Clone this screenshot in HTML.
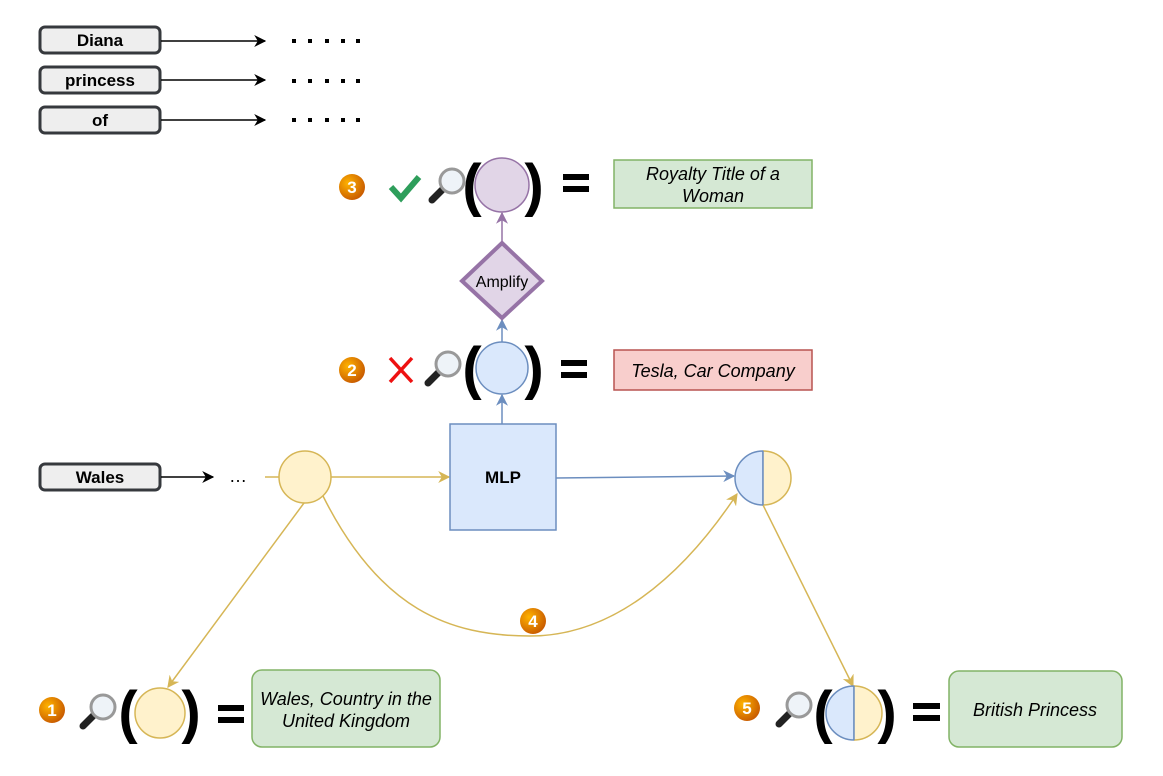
<!DOCTYPE html>
<html><head><meta charset="utf-8"><style>
html,body{margin:0;padding:0;background:#fff;}
svg{display:block;font-family:"Liberation Sans",sans-serif;}
</style></head><body>
<svg width="1163" height="776" viewBox="0 0 1163 776" xmlns="http://www.w3.org/2000/svg">
<defs>
<marker id="ak" viewBox="0 0 10 10" refX="9" refY="5" markerWidth="12" markerHeight="12" markerUnits="userSpaceOnUse" orient="auto"><path d="M0,0 L10,5 L0,10 L3,5 z" fill="#000"/></marker>
<marker id="ay" viewBox="0 0 10 10" refX="9" refY="5" markerWidth="12" markerHeight="12" markerUnits="userSpaceOnUse" orient="auto"><path d="M0,0 L10,5 L0,10 L3,5 z" fill="#d6b656"/></marker>
<marker id="ab" viewBox="0 0 10 10" refX="9" refY="5" markerWidth="12" markerHeight="12" markerUnits="userSpaceOnUse" orient="auto"><path d="M0,0 L10,5 L0,10 L3,5 z" fill="#6c8ebf"/></marker>
<marker id="ap" viewBox="0 0 10 10" refX="9" refY="5" markerWidth="12" markerHeight="12" markerUnits="userSpaceOnUse" orient="auto"><path d="M0,0 L10,5 L0,10 L3,5 z" fill="#9673a6"/></marker>
<radialGradient id="bg" cx="35%" cy="35%" r="70%"><stop offset="0" stop-color="#ffb300"/><stop offset="1" stop-color="#c85a00"/></radialGradient>
</defs>

<g stroke="#36393d" stroke-width="3" fill="#eeeeee">
<rect x="40" y="27" width="120" height="26" rx="5"/>
<rect x="40" y="67" width="120" height="26" rx="5"/>
<rect x="40" y="107" width="120" height="26" rx="5"/>
<rect x="40" y="464" width="120" height="26" rx="5"/>
</g>
<g font-weight="bold" font-size="17" text-anchor="middle" fill="#000">
<text x="100" y="46">Diana</text>
<text x="100" y="86">princess</text>
<text x="100" y="126">of</text>
<text x="100" y="483">Wales</text>
</g>
<g stroke="#000" stroke-width="1.5">
<line x1="161" y1="41" x2="265" y2="41" marker-end="url(#ak)"/>
<line x1="161" y1="80" x2="265" y2="80" marker-end="url(#ak)"/>
<line x1="161" y1="120" x2="265" y2="120" marker-end="url(#ak)"/>
<line x1="161" y1="477" x2="213" y2="477" marker-end="url(#ak)"/>
</g>
<g fill="#000">
<rect x="292" y="39" width="4" height="4"/><rect x="308" y="39" width="4" height="4"/><rect x="325" y="39" width="4" height="4"/><rect x="341" y="39" width="4" height="4"/><rect x="356" y="39" width="4" height="4"/>
<rect x="292" y="79" width="4" height="4"/><rect x="308" y="79" width="4" height="4"/><rect x="325" y="79" width="4" height="4"/><rect x="341" y="79" width="4" height="4"/><rect x="356" y="79" width="4" height="4"/>
<rect x="292" y="118" width="4" height="4"/><rect x="308" y="118" width="4" height="4"/><rect x="325" y="118" width="4" height="4"/><rect x="341" y="118" width="4" height="4"/><rect x="356" y="118" width="4" height="4"/>
</g>
<text x="238" y="482" font-size="18" text-anchor="middle">…</text>

<line x1="265" y1="477" x2="279" y2="477" stroke="#d6b656" stroke-width="1.5"/>
<line x1="331" y1="477" x2="449" y2="477" stroke="#d6b656" stroke-width="1.5" marker-end="url(#ay)"/>
<line x1="556" y1="478" x2="734" y2="476" stroke="#6c8ebf" stroke-width="1.5" marker-end="url(#ab)"/>
<path d="M304,503 L168,687" stroke="#d6b656" stroke-width="1.5" fill="none" marker-end="url(#ay)"/>
<path d="M323,496 C380,610 450,636 530,636 C610,636 680,580 737,494" stroke="#d6b656" stroke-width="1.5" fill="none" marker-end="url(#ay)"/>
<path d="M763,505 L853,686" stroke="#d6b656" stroke-width="1.5" fill="none" marker-end="url(#ay)"/>
<line x1="502" y1="424" x2="502" y2="395" stroke="#6c8ebf" stroke-width="1.5" marker-end="url(#ab)"/>
<line x1="502" y1="342" x2="502" y2="320" stroke="#6c8ebf" stroke-width="1.5" marker-end="url(#ab)"/>
<line x1="502" y1="242" x2="502" y2="213" stroke="#9673a6" stroke-width="1.5" marker-end="url(#ap)"/>

<circle cx="305" cy="477" r="26" fill="#fff2cc" stroke="#d6b656" stroke-width="1.5"/>
<rect x="450" y="424" width="106" height="106" fill="#dae8fc" stroke="#6c8ebf" stroke-width="1.5"/>
<text x="503" y="483" font-size="17" font-weight="bold" text-anchor="middle">MLP</text>
<path d="M763,451 A28,27 0 0 0 763,505 Z" fill="#dae8fc" stroke="#6c8ebf" stroke-width="1.5"/>
<path d="M763,451 A28,27 0 0 1 763,505" fill="#fff2cc" stroke="#d6b656" stroke-width="1.5"/>
<line x1="763" y1="451" x2="763" y2="505" stroke="#6c8ebf" stroke-width="1.5"/>

<polygon points="502,243 542,281 502,318 462,281" fill="#e1d5e7" stroke="#9673a6" stroke-width="4"/>
<text x="502" y="287" font-size="16" text-anchor="middle">Amplify</text>

<circle cx="502" cy="185" r="27" fill="#e1d5e7" stroke="#9673a6" stroke-width="1.5"/>
<circle cx="502" cy="368" r="26" fill="#dae8fc" stroke="#6c8ebf" stroke-width="1.5"/>
<circle cx="160" cy="713" r="25" fill="#fff2cc" stroke="#d6b656" stroke-width="1.5"/>
<path d="M854,686 A28,27 0 0 0 854,740 Z" fill="#dae8fc" stroke="#6c8ebf" stroke-width="1.5"/>
<path d="M854,686 A28,27 0 0 1 854,740" fill="#fff2cc" stroke="#d6b656" stroke-width="1.5"/>
<line x1="854" y1="686" x2="854" y2="740" stroke="#6c8ebf" stroke-width="1.5"/>

<g font-size="58" font-weight="bold" text-anchor="middle">
<text x="472" y="205">(</text><text x="534" y="205">)</text>
<text x="472" y="388">(</text><text x="534" y="388">)</text>
<text x="128" y="732">(</text><text x="191" y="732">)</text>
<text x="823" y="732">(</text><text x="887" y="732">)</text>
</g>
<g fill="#000">
<rect x="563" y="174" width="26" height="6"/><rect x="563" y="186" width="26" height="6"/>
<rect x="561" y="360" width="26" height="6"/><rect x="561" y="372" width="26" height="6"/>
<rect x="218" y="705" width="26" height="6"/><rect x="218" y="717" width="26" height="6"/>
<rect x="913" y="703" width="27" height="6"/><rect x="913" y="715" width="27" height="6"/>
</g>

<rect x="614" y="160" width="198" height="48" fill="#d5e8d4" stroke="#82b366" stroke-width="1.5"/>
<text x="713" y="180" font-size="18" font-style="italic" text-anchor="middle">Royalty Title of a</text>
<text x="713" y="202" font-size="18" font-style="italic" text-anchor="middle">Woman</text>
<rect x="614" y="350" width="198" height="40" fill="#f8cecc" stroke="#b85450" stroke-width="1.5"/>
<text x="713" y="377" font-size="18" font-style="italic" text-anchor="middle">Tesla, Car Company</text>
<rect x="252" y="670" width="188" height="77" rx="10" fill="#d5e8d4" stroke="#82b366" stroke-width="1.5"/>
<text x="346" y="705" font-size="18" font-style="italic" text-anchor="middle">Wales, Country in the</text>
<text x="346" y="727" font-size="18" font-style="italic" text-anchor="middle">United Kingdom</text>
<rect x="949" y="671" width="173" height="76" rx="10" fill="#d5e8d4" stroke="#82b366" stroke-width="1.5"/>
<text x="1035" y="716" font-size="18" font-style="italic" text-anchor="middle">British Princess</text>

<g>
<circle cx="352" cy="187" r="13" fill="url(#bg)"/>
<circle cx="352" cy="370" r="13" fill="url(#bg)"/>
<circle cx="533" cy="621" r="13" fill="url(#bg)"/>
<circle cx="52" cy="710" r="13" fill="url(#bg)"/>
<circle cx="747" cy="708" r="13" fill="url(#bg)"/>
</g>
<g font-size="17" font-weight="bold" fill="#fff" text-anchor="middle">
<text x="352" y="193">3</text><text x="352" y="376">2</text><text x="533" y="627">4</text><text x="52" y="716">1</text><text x="747" y="714">5</text>
</g>

<path d="M391,187 L401,198 L419,177" stroke="#2e9e5b" stroke-width="6" fill="none"/>
<path d="M390,358 L412,382 M412,358 L390,382" stroke="#ee1111" stroke-width="3.5" fill="none"/>

<g>
<g transform="translate(445,187)"><line x1="-3" y1="3" x2="-13" y2="13" stroke="#222" stroke-width="7" stroke-linecap="round"/><circle cx="7" cy="-6" r="12" fill="#eef3f8" stroke="#999" stroke-width="3"/></g>
<g transform="translate(441,370)"><line x1="-3" y1="3" x2="-13" y2="13" stroke="#222" stroke-width="7" stroke-linecap="round"/><circle cx="7" cy="-6" r="12" fill="#eef3f8" stroke="#999" stroke-width="3"/></g>
<g transform="translate(96,713)"><line x1="-3" y1="3" x2="-13" y2="13" stroke="#222" stroke-width="7" stroke-linecap="round"/><circle cx="7" cy="-6" r="12" fill="#eef3f8" stroke="#999" stroke-width="3"/></g>
<g transform="translate(792,711)"><line x1="-3" y1="3" x2="-13" y2="13" stroke="#222" stroke-width="7" stroke-linecap="round"/><circle cx="7" cy="-6" r="12" fill="#eef3f8" stroke="#999" stroke-width="3"/></g>
</g>
</svg>
</body></html>
